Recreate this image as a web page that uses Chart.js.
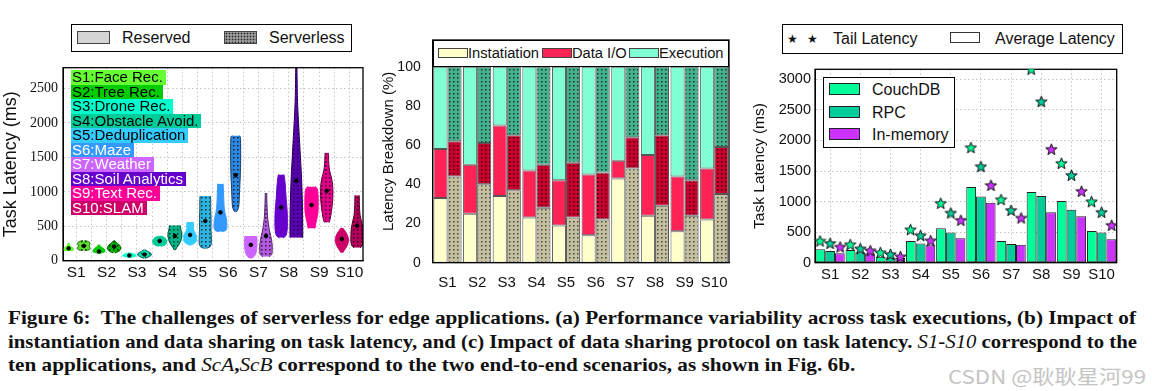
<!DOCTYPE html>
<html>
<head>
<meta charset="utf-8">
<script src="https://cdn.jsdelivr.net/npm/chart.js@4.4.1/dist/chart.umd.min.js"></script>
<style>
  body { margin:0; width:1152px; height:391px; position:relative; overflow:hidden; background:#fff;
         font-family:"Liberation Sans", Arial, sans-serif; color:#111; }
  canvas { position:absolute; }
  .box { position:absolute; box-sizing:border-box; border:1px solid #000; background:#fff; }
  .patch { position:absolute; box-sizing:border-box; border:1px solid #444; }
  .lbl { position:absolute; white-space:nowrap; line-height:1; }
  .tag { position:absolute; left:71px; height:14.5px; line-height:14.5px; font-size:15px; padding:0 3px 0 1px; white-space:nowrap; }
  .cap { position:absolute; left:8px; white-space:pre; font:bold 19px "Liberation Serif", serif; line-height:23px; transform-origin:0 50%; color:#111; display:inline-block; }
  .cap i { font-weight:normal; }
</style>
</head>
<body>
<canvas id="ca" style="left:0;top:48px" width="372" height="242"></canvas>
<canvas id="cb" style="left:380px;top:24px" width="360" height="268"></canvas>
<canvas id="cc" style="left:750px;top:48px" width="376" height="244"></canvas>
<canvas id="cs" style="left:750px;top:48px" width="376" height="244"></canvas>

<!-- legend (a) -->
<div class="box" style="left:71px;top:24px;width:281px;height:28px"></div>
<div class="patch" style="left:77px;top:31px;width:33px;height:13px;background:#d4d4d4"></div>
<div class="lbl" style="left:122px;top:30px;font-size:16px">Reserved</div>
<div class="patch" style="left:224px;top:31px;width:33px;height:13px;background:radial-gradient(circle,#222 0.7px,transparent 1.1px) 0 0/3px 3px,#9a9a9a"></div>
<div class="lbl" style="left:269px;top:30px;font-size:16px">Serverless</div>

<!-- legend (b) -->
<div class="box" style="left:433px;top:40px;width:296px;height:27px"></div>
<div class="patch" style="left:438px;top:48px;width:30px;height:10px;background:#ffffcc"></div>
<div class="lbl" style="left:468px;top:46px;font-size:14.7px">Instatiation</div>
<div class="patch" style="left:542px;top:48px;width:30px;height:10px;background:#ff2255"></div>
<div class="lbl" style="left:572px;top:46px;font-size:14.7px">Data I/O</div>
<div class="patch" style="left:629px;top:48px;width:30px;height:10px;background:#80ffd5"></div>
<div class="lbl" style="left:659px;top:46px;font-size:14.7px">Execution</div>

<!-- legend (c) top -->
<div class="box" style="left:782px;top:24px;width:341px;height:30px"></div>
<div class="lbl" style="left:787px;top:32px;font:12px 'DejaVu Sans'">★</div>
<div class="lbl" style="left:807px;top:32px;font:12px 'DejaVu Sans'">★</div>
<div class="lbl" style="left:833px;top:31px;font-size:16px">Tail Latency</div>
<div class="patch" style="left:950px;top:32px;width:30px;height:11px;background:#fff;border-color:#333"></div>
<div class="lbl" style="left:995px;top:31px;font-size:16px">Average Latency</div>

<!-- legend (c) inner -->
<div class="box" style="left:823px;top:77px;width:132px;height:71px"></div>
<div class="patch" style="left:829px;top:83px;width:31px;height:12px;background:#00ff99;border-color:#222"></div>
<div class="lbl" style="left:872px;top:82px;font-size:16px">CouchDB</div>
<div class="patch" style="left:829px;top:106px;width:31px;height:12px;background:#00cc99;border-color:#222"></div>
<div class="lbl" style="left:872px;top:105px;font-size:16px">RPC</div>
<div class="patch" style="left:829px;top:128px;width:31px;height:12px;background:#cc33ff;border-color:#222"></div>
<div class="lbl" style="left:872px;top:127px;font-size:16px">In-memory</div>

<div class="cap" id="l1" style="top:306px">Figure 6:  The challenges of serverless for edge applications. (a) Performance variability across task executions, (b) Impact of</div>
<div class="cap" id="l2" style="top:330px">instantiation and data sharing on task latency, and (c) Impact of data sharing protocol on task latency. <i>S1</i>-<i>S10</i> correspond to the</div>
<div class="cap" id="l3" style="top:353px">ten applications, and <i>ScA</i>,<i>ScB</i> correspond to the two end-to-end scenarios, as shown in Fig. 6b.</div>
<div class="lbl" id="wm" style="left:948px;top:362px;font:19px 'Noto Sans CJK SC';color:#c4c4c4;transform-origin:0 50%">CSDN @耿耿星河99</div>

<script>
const apps = ['S1','S2','S3','S4','S5','S6','S7','S8','S9','S10'];
const appTags = ['S1:Face Rec.','S2:Tree Rec.','S3:Drone Rec.','S4:Obstacle Avoid.','S5:Deduplication',
                 'S6:Maze','S7:Weather','S8:Soil Analytics','S9:Text Rec.','S10:SLAM'];
const appColors = ['#66ff33','#00cc00','#00ffcc','#00cc99','#33ccff','#3399ff','#cc66ff','#6600cc','#ff0099','#cc0066'];
const tagText = ['#000','#000','#000','#000','#000','#fff','#fff','#fff','#fff','#fff'];

// (a) violins: latency levels (ms) and half widths (in violin slots)
const resLevels = [
  [140,150,165,180,195,210,230,250,260],
  [110,125,140,160,180,200,220,235],
  [48,60,75,90,105,116],
  [210,225,245,265,285,305,325,345,358],
  [225,250,280,320,360,400,440,480,520,564],
  [420,440,480,540,600,660,720,800,900,1000,1118],
  [35,60,100,150,200,250,300,340,361],
  [333,360,420,500,600,700,800,900,1000,1100,1200,1253],
  [468,500,560,640,720,800,880,960,1040,1079],
  [116,150,200,250,300,350,400,450,477]
];
const resWidths = [
  [0.2,0.3,0.34,0.32,0.25,0.12,0.08,0.05,0.02],
  [0.05,0.35,0.4,0.38,0.3,0.15,0.08,0.02],
  [0.05,0.3,0.44,0.4,0.2,0.03],
  [0.05,0.3,0.42,0.46,0.46,0.44,0.38,0.25,0.05],
  [0.03,0.25,0.4,0.42,0.42,0.35,0.25,0.22,0.22,0.2],
  [0.1,0.35,0.42,0.42,0.4,0.34,0.28,0.24,0.22,0.2,0.18],
  [0.05,0.2,0.32,0.38,0.4,0.41,0.41,0.4,0.37],
  [0.12,0.3,0.38,0.41,0.41,0.4,0.37,0.33,0.3,0.27,0.22,0.18],
  [0.22,0.25,0.3,0.38,0.43,0.44,0.44,0.43,0.38,0.25],
  [0.05,0.15,0.3,0.4,0.44,0.4,0.3,0.15,0.05]
];
const resMeans = [180,134,77,288,375,702,231,774,808,317];

const srvLevels = [
  [145,160,180,200,220,240,260,280,295],
  [115,130,150,170,190,210,230,250,270,295],
  [35,55,75,95,115,135,150,165],
  [155,190,230,270,310,350,390,430,470,500,516],
  [180,200,250,350,450,550,650,750,850,920,940],
  [708,730,780,850,950,1050,1150,1250,1350,1450,1550,1650,1750,1800,1816],
  [60,90,150,250,350,450,550,650,750,850,983],
  [333,350,500,700,900,1100,1300,1500,1700,1900,2100,2300,2500,2800,2900],
  [555,600,700,800,900,1000,1100,1200,1300,1400,1500,1566],
  [188,220,280,350,420,500,580,660,740,820,900,949]
];
const srvWidths = [
  [0.05,0.35,0.42,0.38,0.36,0.4,0.4,0.3,0.05],
  [0.05,0.25,0.38,0.42,0.44,0.42,0.34,0.22,0.12,0.02],
  [0.03,0.25,0.42,0.46,0.38,0.22,0.1,0.02],
  [0.03,0.12,0.25,0.35,0.42,0.45,0.46,0.42,0.38,0.36,0.34],
  [0.03,0.3,0.4,0.4,0.38,0.38,0.38,0.36,0.36,0.35,0.33],
  [0.03,0.12,0.2,0.23,0.25,0.27,0.29,0.31,0.32,0.33,0.33,0.33,0.32,0.3,0.22],
  [0.2,0.38,0.41,0.4,0.32,0.22,0.15,0.1,0.08,0.06,0.05],
  [0.4,0.42,0.42,0.41,0.39,0.36,0.32,0.27,0.22,0.17,0.12,0.08,0.06,0.04,0.03],
  [0.15,0.22,0.3,0.36,0.4,0.41,0.39,0.32,0.2,0.14,0.12,0.1],
  [0.2,0.35,0.41,0.41,0.4,0.36,0.28,0.2,0.17,0.15,0.15,0.14]
];
const srvMeans = [216,207,91,361,577,1241,361,1160,1015,510];
const latTicksA = [0,500,1000,1500,2000,2500];

// (b) latency breakdown (%)
const instRes = [33,25,34,23,19,14,43,24,16,22];
const ioRes   = [25,25,36,24,23,31,9,31,28,26];
const execRes = [42,50,30,53,58,55,48,45,56,52];
const instSrv = [44,40,37,28,23,22,48,29,24,35];
const ioSrv   = [18,21,28,22,28,24,16,36,18,24];
const execSrv = [38,39,35,50,49,54,36,35,58,41];
const pctTicks = [0,20,40,60,80,100];

// (c) average and tail latency (ms)
const couchAvg = [218,207,98,355,562,1238,355,1156,1009,518];
const rpcAvg   = [191,169,87,316,496,1085,305,1091,867,496];
const memAvg   = [153,153,76,284,398,982,295,824,758,382];
const couchTail = [355,295,164,540,971,1882,1031,3164,1625,998];
const rpcTail   = [316,229,136,442,813,1571,856,2635,1429,824];
const memTail   = [256,196,98,360,693,1265,731,1855,1167,611];
const latTicksC = [0,500,1000,1500,2000,2500,3000];

Chart.defaults.font.family = '"Liberation Sans", Arial, sans-serif';
Chart.defaults.color = '#111';

// tags in (a)
appTags.forEach((t, i) => {
  document.body.insertAdjacentHTML('beforeend',
    `<div class="tag" style="top:${70 + i * 14.5}px;background:${appColors[i]};color:${tagText[i]}">${t}</div>`);
});

function shade(hex, f) {
  const n = parseInt(hex.slice(1), 16);
  return `rgb(${Math.round((n >> 16 & 255) * f)},${Math.round((n >> 8 & 255) * f)},${Math.round((n & 255) * f)})`;
}
function dots(base, dot) {
  const c = document.createElement('canvas'); c.width = 4; c.height = 4;
  const g = c.getContext('2d');
  g.fillStyle = base; g.fillRect(0, 0, 4, 4);
  g.fillStyle = dot; g.fillRect(1, 1, 1.5, 1.5);
  return g.createPattern(c, 'repeat');
}
function starImg(color) {
  const c = document.createElement('canvas'); c.width = 13; c.height = 13;
  const g = c.getContext('2d');
  g.beginPath();
  for (let k = 0; k < 10; k++) {
    const r = k % 2 ? 2.5 : 6, a = -Math.PI / 2 + k * Math.PI / 5;
    g.lineTo(6.5 + r * Math.cos(a), 6.9 + r * Math.sin(a));
  }
  g.closePath();
  g.fillStyle = color; g.fill();
  g.lineWidth = 1; g.strokeStyle = '#111'; g.stroke();
  return c;
}
const fixTicks = vals => s => { s.ticks = vals.map(v => ({value: v})); };

const framePlugin = {
  id: 'frame',
  afterDraw(chart) {
    const {ctx, chartArea: a} = chart;
    ctx.save();
    ctx.strokeStyle = '#000'; ctx.lineWidth = 1.3;
    ctx.strokeRect(a.left, a.top, a.right - a.left, a.bottom - a.top);
    ctx.restore();
  }
};

// ---------- (a) violins ----------
function violin(levels, widths, center, fill, border) {
  const left = levels.map((y, k) => ({x: center - widths[k], y}));
  const right = levels.map((y, k) => ({x: center + widths[k], y}));
  const base = {borderColor: border, borderWidth: 1, pointRadius: 0, tension: 0.3};
  return [
    Object.assign({data: left, fill: false}, base),
    Object.assign({data: right, fill: '-1', backgroundColor: fill}, base)
  ];
}
let violinSets = [];
apps.forEach((a, i) => {
  const col = appColors[i];
  violinSets = violinSets.concat(violin(resLevels[i], resWidths[i], 2 * i + 0.5, col, col));
  violinSets = violinSets.concat(violin(srvLevels[i], srvWidths[i], 2 * i + 1.5,
    dots(shade(col, 0.88), shade(col, 0.25)), shade(col, 0.4)));
});
const meanDots = {
  data: apps.flatMap((a, i) => [{x: 2 * i + 0.5, y: resMeans[i]}, {x: 2 * i + 1.5, y: srvMeans[i]}]),
  showLine: false, pointRadius: 1.8, pointBackgroundColor: '#000', pointBorderColor: '#000', order: -1
};

new Chart(document.getElementById('ca'), {
  type: 'line',
  data: {datasets: violinSets.concat([meanDots])},
  options: {
    indexAxis: 'y', responsive: false, animation: false,
    layout: {padding: {top: 19.7, right: 9}},
    plugins: {legend: {display: false}, tooltip: {enabled: false}},
    scales: {
      x: {
        type: 'linear', min: 0.13, max: 19.89,
        afterBuildTicks: fixTicks([1,2,3,4,5,6,7,8,9,10,11,12,13,14,15,16,17,18,19]),
        afterFit: s => { s.height = 29.2; },
        ticks: {autoSkip: false, maxRotation: 0, minRotation: 0, padding: 3, font: {size: 15.5},
                callback: v => v % 2 === 1 ? apps[(v - 1) / 2] : ''},
        grid: {color: '#c4c4c4', drawTicks: false},
        border: {color: '#000', dash: [1.5, 2.5]}
      },
      y: {
        type: 'linear', min: 0, max: 2800,
        afterBuildTicks: fixTicks(latTicksA),
        afterFit: s => { s.width = 63; },
        title: {display: true, text: 'Task Latency (ms)', font: {size: 18}, padding: {top: 0, bottom: 2}},
        ticks: {padding: 5, font: {family: '"Liberation Serif", serif', size: 14}, callback: v => String(v)},
        grid: {color: '#c4c4c4', drawTicks: false},
        border: {color: '#000', dash: [1.5, 2.5]}
      }
    }
  },
  plugins: [framePlugin]
});

// ---------- (b) breakdown ----------
const barBase = {borderColor: '#555', borderWidth: 1, borderSkipped: false};
new Chart(document.getElementById('cb'), {
  type: 'bar',
  data: {
    labels: apps,
    datasets: [
      {label: 'Instatiation', data: instRes, stack: 'r', backgroundColor: '#ffffcc'},
      {label: 'Data I/O', data: ioRes, stack: 'r', backgroundColor: '#ff2255'},
      {label: 'Execution', data: execRes, stack: 'r', backgroundColor: '#80ffd5'},
      {label: 'Instatiation (serverless)', data: instSrv, stack: 's', backgroundColor: dots('#c4bf9f', '#4a4a3a')},
      {label: 'Data I/O (serverless)', data: ioSrv, stack: 's', backgroundColor: dots('#c8002e', '#40000c')},
      {label: 'Execution (serverless)', data: execSrv, stack: 's', backgroundColor: dots('#45b08e', '#11382a')}
    ].map(d => Object.assign({}, barBase, d))
  },
  options: {
    responsive: false, animation: false,
    datasets: {bar: {categoryPercentage: 0.95, barPercentage: 1}},
    layout: {padding: {top: 16, right: 11}},
    plugins: {legend: {display: false}, tooltip: {enabled: false}},
    scales: {
      x: {
        stacked: true,
        afterFit: s => { s.height = 29.3; },
        ticks: {autoSkip: false, maxRotation: 0, minRotation: 0, padding: 3, font: {size: 15}},
        grid: {display: false},
        border: {color: '#000'}
      },
      y: {
        stacked: true, min: 0, max: 113.6,
        afterBuildTicks: fixTicks(pctTicks),
        afterFit: s => { s.width = 52.7; },
        ticks: {padding: 4, font: {size: 14}},
        title: {display: true, text: 'Latency Breakdown (%)', font: {size: 15}, padding: {top: 0, bottom: 0}},
        grid: {display: false},
        border: {color: '#000'}
      }
    }
  },
  plugins: [framePlugin]
});

// ---------- (c) data sharing protocol: bars ----------
const cBar = {borderColor: '#222', borderWidth: 1, borderSkipped: false};
new Chart(document.getElementById('cc'), {
  type: 'bar',
  data: {
    labels: apps,
    datasets: [
      Object.assign({label: 'CouchDB', data: couchAvg, backgroundColor: '#00ff99'}, cBar),
      Object.assign({label: 'RPC', data: rpcAvg, backgroundColor: '#00cc99'}, cBar),
      Object.assign({label: 'In-memory', data: memAvg, backgroundColor: '#cc33ff'}, cBar)
    ]
  },
  options: {
    responsive: false, animation: false,
    datasets: {bar: {categoryPercentage: 0.97, barPercentage: 1}},
    layout: {padding: {top: 21.3, right: 9.3}},
    plugins: {legend: {display: false}, tooltip: {enabled: false}},
    scales: {
      x: {
        afterFit: s => { s.height = 29.3; },
        ticks: {autoSkip: false, maxRotation: 0, minRotation: 0, padding: 3, font: {size: 15}},
        grid: {offset: false, color: '#c4c4c4', drawTicks: false},
        border: {color: '#000', dash: [1.5, 2.5]}
      },
      y: {
        min: 0, max: 3164,
        afterBuildTicks: fixTicks(latTicksC),
        afterFit: s => { s.width = 65; },
        ticks: {padding: 4, font: {size: 14.5}, callback: v => String(v)},
        title: {display: true, text: 'Task Latency (ms)', font: {size: 15.5}, padding: {top: 0, bottom: 2}},
        grid: {color: '#c4c4c4', drawTicks: false},
        border: {color: '#000', dash: [1.5, 2.5]}
      }
    }
  },
  plugins: [framePlugin]
});

// ---------- (c) tail latency stars, same plot area, one slot per bar ----------
const slots = apps.flatMap(a => [a + ' CouchDB', a + ' RPC', a + ' In-memory']);
const starData = (tail, k) => slots.map((s, j) => j % 3 === k ? tail[Math.floor(j / 3)] : null);
const cStar = {showLine: false, clip: 0, pointRadius: 6};
new Chart(document.getElementById('cs'), {
  type: 'line',
  data: {
    labels: slots,
    datasets: [
      Object.assign({label: 'CouchDB tail', data: starData(couchTail, 0), pointStyle: starImg('#00ff99')}, cStar),
      Object.assign({label: 'RPC tail', data: starData(rpcTail, 1), pointStyle: starImg('#00cc99')}, cStar),
      Object.assign({label: 'In-memory tail', data: starData(memTail, 2), pointStyle: starImg('#cc33ff')}, cStar)
    ]
  },
  options: {
    responsive: false, animation: false,
    layout: {padding: {left: 65, top: 21.3, right: 9.3, bottom: 29.3}},
    plugins: {legend: {display: false}, tooltip: {enabled: false}},
    scales: {
      x: {type: 'category', offset: true, display: false},
      y: {min: 0, max: 3164, display: false}
    }
  }
});

// caption fitting
const l1 = document.getElementById('l1');
const sc = 1128 / l1.getBoundingClientRect().width;
l1.style.transform = `scaleX(${sc})`;
const l2 = document.getElementById('l2');
l2.style.transform = `scaleX(${1129 / l2.getBoundingClientRect().width})`;
document.getElementById('l3').style.transform = `scaleX(${sc})`;
const wm = document.getElementById('wm');
wm.style.transform = `scaleX(${198 / wm.getBoundingClientRect().width})`;
</script>
</body>
</html>
